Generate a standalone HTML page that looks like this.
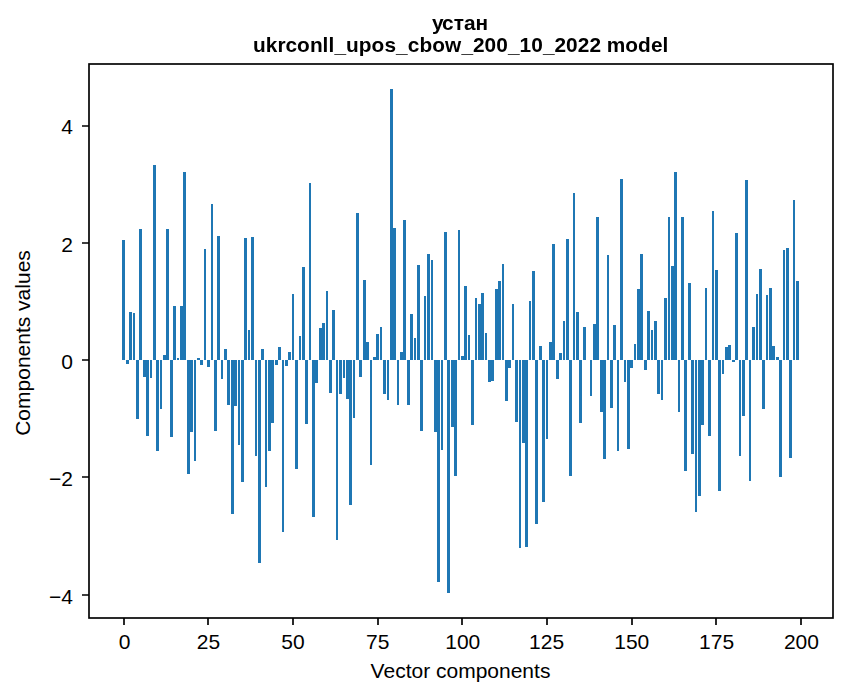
<!DOCTYPE html>
<html lang="uk"><head><meta charset="utf-8"><title>устан - ukrconll_upos_cbow_200_10_2022 model</title>
<style>
html,body{margin:0;padding:0;background:#fff;}
body{width:847px;height:696px;position:relative;overflow:hidden;font-family:"Liberation Sans",sans-serif;}
#fig{position:absolute;left:0;top:0;width:847px;height:696px;}
</style></head><body>
<div id="fig" role="img" aria-label="Bar chart: Components values vs Vector components">
<svg width="847" height="696" viewBox="0 0 847 696" style="position:absolute;left:0;top:0">
<rect width="847" height="696" fill="#fff"/>
<path id="bars" aria-label="200 vector component values" fill="#1f77b4" shape-rendering="crispEdges" d="M122 240h3v120h-3zM126 360h3v4h-3zM129 312h3v48h-3zM133 313h2v47h-2zM136 360h3v59h-3zM139 229h3v131h-3zM143 360h3v17h-3zM146 360h3v76h-3zM150 360h2v18h-2zM153 165h3v195h-3zM156 360h3v91h-3zM160 360h2v49h-2zM163 355h3v5h-3zM166 229h3v131h-3zM170 360h3v77h-3zM173 306h3v54h-3zM177 358h2v2h-2zM180 306h3v54h-3zM183 172h3v188h-3zM187 360h3v114h-3zM190 360h3v72h-3zM194 360h2v101h-2zM197 358h3v2h-3zM200 360h3v5h-3zM204 249h2v111h-2zM207 360h3v7h-3zM211 204h2v156h-2zM214 360h3v71h-3zM217 236h3v124h-3zM221 360h2v19h-2zM224 349h3v11h-3zM227 360h3v45h-3zM231 360h3v154h-3zM234 360h3v46h-3zM238 360h2v85h-2zM241 360h3v122h-3zM244 238h3v122h-3zM248 330h2v30h-2zM251 237h3v123h-3zM255 360h2v96h-2zM258 360h3v203h-3zM261 349h3v11h-3zM265 360h2v127h-2zM268 360h3v91h-3zM271 360h3v63h-3zM275 360h3v5h-3zM278 347h3v13h-3zM282 360h2v172h-2zM285 360h3v6h-3zM288 352h3v8h-3zM292 294h2v66h-2zM295 360h3v109h-3zM299 336h2v24h-2zM302 267h3v93h-3zM305 360h3v64h-3zM309 183h2v177h-2zM312 360h3v157h-3zM315 360h3v23h-3zM319 328h3v32h-3zM322 323h3v37h-3zM326 291h2v69h-2zM329 360h3v33h-3zM332 310h3v50h-3zM336 360h2v180h-2zM339 360h3v34h-3zM343 360h2v18h-2zM346 360h3v39h-3zM349 360h3v145h-3zM353 360h2v58h-2zM356 213h3v147h-3zM359 360h3v17h-3zM363 280h3v80h-3zM366 342h3v18h-3zM370 360h2v105h-2zM373 357h3v3h-3zM376 334h3v26h-3zM380 327h2v33h-2zM383 360h3v34h-3zM387 360h2v40h-2zM390 89h3v271h-3zM393 228h3v132h-3zM397 360h2v45h-2zM400 352h3v8h-3zM403 220h3v140h-3zM407 360h3v45h-3zM410 314h3v46h-3zM414 338h2v22h-2zM417 265h3v95h-3zM420 360h3v71h-3zM424 296h2v64h-2zM427 254h3v106h-3zM431 260h2v100h-2zM434 360h3v72h-3zM437 360h3v222h-3zM441 360h2v90h-2zM444 232h3v128h-3zM447 360h3v233h-3zM451 360h3v67h-3zM454 360h3v116h-3zM458 230h2v130h-2zM461 356h3v4h-3zM464 286h3v74h-3zM468 335h2v25h-2zM471 360h3v65h-3zM475 298h2v62h-2zM478 304h3v56h-3zM481 293h3v67h-3zM485 333h2v27h-2zM488 360h3v22h-3zM491 360h3v21h-3zM495 289h3v71h-3zM498 281h3v79h-3zM502 264h2v96h-2zM505 360h3v41h-3zM508 360h3v8h-3zM512 304h2v56h-2zM515 360h3v62h-3zM519 360h2v188h-2zM522 360h3v83h-3zM525 360h3v187h-3zM529 301h2v59h-2zM532 271h3v89h-3zM535 360h3v164h-3zM539 346h3v14h-3zM542 360h3v142h-3zM546 360h2v79h-2zM549 342h3v18h-3zM552 244h3v116h-3zM556 360h3v19h-3zM559 353h3v7h-3zM563 321h2v39h-2zM566 239h3v121h-3zM569 360h3v116h-3zM573 193h2v167h-2zM576 312h3v48h-3zM579 360h3v63h-3zM583 327h3v33h-3zM590 360h2v36h-2zM593 324h3v36h-3zM596 217h3v143h-3zM600 360h3v52h-3zM603 360h3v99h-3zM607 255h2v105h-2zM610 360h3v48h-3zM613 325h3v35h-3zM617 360h2v91h-2zM620 179h3v181h-3zM624 360h2v22h-2zM627 360h3v89h-3zM630 360h3v8h-3zM634 344h2v16h-2zM637 289h3v71h-3zM640 254h3v106h-3zM644 360h3v10h-3zM647 311h3v49h-3zM651 330h2v30h-2zM654 321h3v39h-3zM657 360h3v34h-3zM661 360h2v40h-2zM664 298h3v62h-3zM668 217h2v143h-2zM671 266h3v94h-3zM674 172h3v188h-3zM678 360h2v52h-2zM681 217h3v143h-3zM684 360h3v111h-3zM688 283h3v77h-3zM691 360h3v94h-3zM695 360h2v152h-2zM698 360h3v136h-3zM701 360h3v65h-3zM705 288h2v72h-2zM708 360h3v76h-3zM712 211h2v149h-2zM715 270h3v90h-3zM718 360h3v131h-3zM722 360h2v14h-2zM725 347h3v13h-3zM728 345h3v15h-3zM732 360h3v2h-3zM735 233h3v127h-3zM739 360h2v96h-2zM742 360h3v56h-3zM745 180h3v180h-3zM749 360h2v121h-2zM752 327h3v33h-3zM756 294h2v66h-2zM759 269h3v91h-3zM762 360h3v49h-3zM766 295h2v65h-2zM769 288h3v72h-3zM772 346h3v14h-3zM776 357h3v3h-3zM779 360h3v117h-3zM783 250h2v110h-2zM786 248h3v112h-3zM789 360h3v98h-3zM793 200h2v160h-2zM796 281h3v79h-3z"/>
<rect x="89" y="64" width="744.00" height="554.00" fill="none" stroke="#000" stroke-width="1.667"/>
<path d="M124 618v7M208 618v7M293 618v7M378 618v7M462 618v7M547 618v7M632 618v7M716 618v7M801 618v7M89 595h-7M89 477h-7M89 360h-7M89 243h-7M89 126h-7" stroke="#000" stroke-width="1.667" fill="none"/>
<g id="labels" aria-label="x axis: Vector components (0 to 200); y axis: Components values (-4 to 4)" font-family="Liberation Sans, sans-serif" font-size="21px" fill="#000">
<text x="124.6" y="649" text-anchor="middle">0</text>
<text x="208.5" y="649" text-anchor="middle">25</text>
<text x="293" y="649" text-anchor="middle">50</text>
<text x="377.7" y="649" text-anchor="middle">75</text>
<text x="462.8" y="649" text-anchor="middle">100</text>
<text x="546.6" y="649" text-anchor="middle">125</text>
<text x="631.8" y="649" text-anchor="middle">150</text>
<text x="716.6" y="649" text-anchor="middle">175</text>
<text x="801.4" y="649" text-anchor="middle">200</text>
<text x="73" y="604" text-anchor="end">−4</text>
<text x="73" y="486" text-anchor="end">−2</text>
<text x="73" y="369" text-anchor="end">0</text>
<text x="73" y="252" text-anchor="end">2</text>
<text x="73" y="134" text-anchor="end">4</text>
<text x="460.5" y="678" text-anchor="middle">Vector components</text>
<text x="30" y="343" text-anchor="middle" transform="rotate(-90 30 343)">Components values</text>
</g>
<g id="title" style="will-change:transform" font-family="Liberation Sans, sans-serif" font-weight="bold" font-size="20.833px" fill="#000">
<text x="432 442.12 453.75 464 475.62" y="30">устан</text>
<text x="253 265.75 277.38 285.5 297.12 310 322.62 328.5 334.38 346 358.75 371.62 384.5 396.12 407.75 419.38 432.25 445.12 461.38 473 484.62 496.25 507.88 519.5 531.25 542.88 554.5 566.12 577.75 589.38 601 606.75 625.25 638.12 650.88 662.62" y="52">ukrconll_upos_cbow_200_10_2022 model</text>
</g>
</svg>
</div>
</body></html>
